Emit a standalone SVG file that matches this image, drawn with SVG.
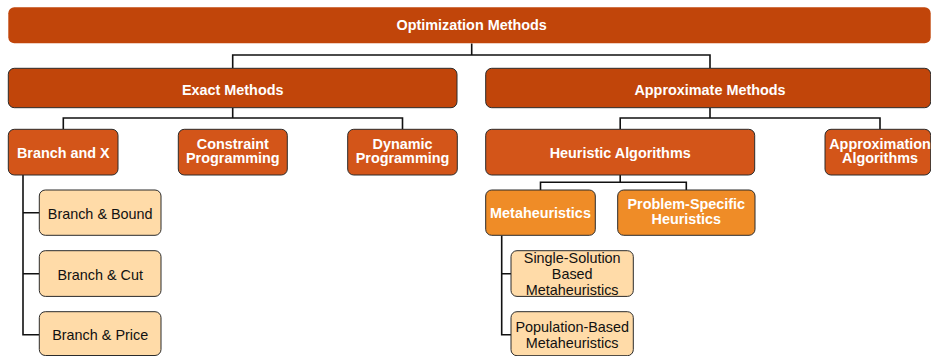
<svg xmlns="http://www.w3.org/2000/svg" width="931" height="356" viewBox="0 0 931 356">
  <style>
    .l0 { fill: #C1450A; }
    .l1 { fill: #C1450A; stroke: #2b2b2b; stroke-width: 1; }
    .l2 { fill: #D35519; stroke: #2b2b2b; stroke-width: 1; }
    .l3 { fill: #EF8C27; stroke: #2b2b2b; stroke-width: 1; }
    .l4 { fill: #FFDBA8; stroke: #2b2b2b; stroke-width: 1; }
    .tb { font-family: "Liberation Sans", Arial, sans-serif; font-size: 14.4px; font-weight: bold; fill: #ffffff; text-anchor: middle; }
    .tr { font-family: "Liberation Sans", Arial, sans-serif; font-size: 14.4px; fill: #111111; text-anchor: middle; }
    .conn path { fill: none; stroke: #111111; stroke-width: 1.6; }
  </style>

  <rect width="931" height="356" fill="#ffffff"/>

  <!-- connectors -->
  <g class="conn" id="connectors">
    <path d="M471.7 43.5 V55 M232.7 68 V55 H710 V68"/>
    <path d="M232.7 108 V118 M63.3 129 V118 H402.5 V129"/>
    <path d="M710 108 V118 M620.2 129 V118 H880 V129"/>
    <path d="M23 175 V334.7 H39.3 M23 212.7 H39.3 M23 273.7 H39.3"/>
    <path d="M620.2 175 V182.3 M540.5 190 V182.3 H686.3 V190"/>
    <path d="M501.7 235.5 V334.7 H511 M501.7 273.7 H511"/>
  </g>

  <g id="optimization-methods">
    <rect class="l0" x="8.3" y="7.3" width="922.4" height="36" rx="6"/>
    <text class="tb" x="471.7" y="30">Optimization Methods</text>
  </g>

  <g id="exact-methods">
    <rect class="l1" x="8.3" y="68.3" width="448.7" height="39.4" rx="6"/>
    <text class="tb" x="232.7" y="94.5">Exact Methods</text>
  </g>

  <g id="approximate-methods">
    <rect class="l1" x="485.7" y="68.3" width="445" height="39.4" rx="6"/>
    <text class="tb" x="710" y="94.5">Approximate Methods</text>
  </g>

  <g id="branch-and-x">
    <rect class="l2" x="8.3" y="129.3" width="109.7" height="45.7" rx="6"/>
    <text class="tb" x="63.3" y="157.7">Branch and X</text>
  </g>

  <g id="constraint-programming">
    <rect class="l2" x="178.3" y="129.3" width="109" height="45.7" rx="6"/>
    <text class="tb" x="232.8" y="149">Constraint</text>
    <text class="tb" x="232.8" y="163.3">Programming</text>
  </g>

  <g id="dynamic-programming">
    <rect class="l2" x="347.7" y="129.3" width="109.6" height="45.7" rx="6"/>
    <text class="tb" x="402.5" y="149">Dynamic</text>
    <text class="tb" x="402.5" y="163.3">Programming</text>
  </g>

  <g id="heuristic-algorithms">
    <rect class="l2" x="485.7" y="129.3" width="269" height="45.7" rx="6"/>
    <text class="tb" x="620.2" y="157.7">Heuristic Algorithms</text>
  </g>

  <g id="approximation-algorithms">
    <rect class="l2" x="825" y="129.3" width="105.7" height="45.7" rx="6"/>
    <text class="tb" x="880" y="149">Approximation</text>
    <text class="tb" x="880" y="163.3">Algorithms</text>
  </g>

  <g id="branch-and-bound">
    <rect class="l4" x="39.3" y="190" width="121.7" height="45.3" rx="6"/>
    <text class="tr" x="100.2" y="218.7">Branch &amp; Bound</text>
  </g>

  <g id="branch-and-cut">
    <rect class="l4" x="39.3" y="250.7" width="121.7" height="45.7" rx="6"/>
    <text class="tr" x="100.2" y="279.7">Branch &amp; Cut</text>
  </g>

  <g id="branch-and-price">
    <rect class="l4" x="39.3" y="311.7" width="121.7" height="43.8" rx="6"/>
    <text class="tr" x="100.2" y="340.3">Branch &amp; Price</text>
  </g>

  <g id="metaheuristics">
    <rect class="l3" x="485.7" y="190" width="109.6" height="45.3" rx="6"/>
    <text class="tb" x="540.5" y="217.7">Metaheuristics</text>
  </g>

  <g id="problem-specific-heuristics">
    <rect class="l3" x="617.7" y="190" width="137.3" height="45.3" rx="6"/>
    <text class="tb" x="686.3" y="209.3">Problem-Specific</text>
    <text class="tb" x="686.3" y="224">Heuristics</text>
  </g>

  <g id="single-solution-metaheuristics">
    <rect class="l4" x="511" y="250.7" width="122.3" height="45.7" rx="6"/>
    <text class="tr" x="572.2" y="263.3">Single-Solution</text>
    <text class="tr" x="572.2" y="279.3">Based</text>
    <text class="tr" x="572.2" y="294.7">Metaheuristics</text>
  </g>

  <g id="population-based-metaheuristics">
    <rect class="l4" x="511" y="311.7" width="122.3" height="44" rx="6"/>
    <text class="tr" x="572.2" y="332.3">Population-Based</text>
    <text class="tr" x="572.2" y="347.7">Metaheuristics</text>
  </g>
</svg>
